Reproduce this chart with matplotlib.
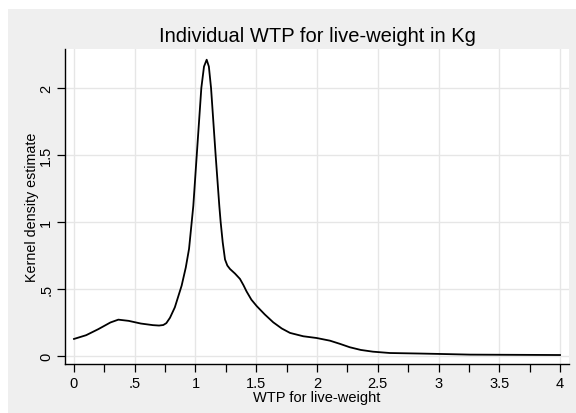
import matplotlib
matplotlib.use("Agg")
import matplotlib.pyplot as plt
from matplotlib.patches import Rectangle
import numpy as np

plt.rcParams['font.family'] = ['Liberation Sans', 'DejaVu Sans']

# Kernel density estimate
wtp = [0.0, 0.1, 0.2, 0.3, 0.365, 0.45, 0.55, 0.65, 0.70, 0.735, 0.76, 0.79,
       0.83, 0.886, 0.92, 0.947, 0.982, 1.01, 1.048, 1.07, 1.092, 1.11, 1.128,
       1.166, 1.196, 1.207, 1.224, 1.243, 1.262, 1.284, 1.325, 1.366, 1.395,
       1.42, 1.46, 1.504, 1.57, 1.64, 1.71, 1.778, 1.887, 1.997, 2.107, 2.19,
       2.27, 2.36, 2.46, 2.6, 2.85, 3.01, 3.26, 3.5, 3.75, 4.0]
density = [0.127, 0.155, 0.20, 0.25, 0.271, 0.262, 0.242, 0.230, 0.227,
           0.231, 0.245, 0.285, 0.363, 0.525, 0.66, 0.80, 1.12, 1.495, 2.0,
           2.16, 2.211, 2.16, 2.0, 1.495, 1.12, 1.0, 0.848, 0.72, 0.675,
           0.649, 0.615, 0.575, 0.528, 0.482, 0.42, 0.372, 0.31, 0.251, 0.205,
           0.172, 0.147, 0.134, 0.114, 0.09, 0.065, 0.045, 0.032, 0.022,
           0.018, 0.015, 0.010, 0.009, 0.008, 0.007]

x_major = [0, 0.5, 1, 1.5, 2, 2.5, 3, 3.5, 4]
x_labels = ["0", ".5", "1", "1.5", "2", "2.5", "3", "3.5", "4"]
x_minor = [0.25, 0.75, 1.25, 1.75, 2.25, 2.75, 3.25, 3.75]
y_major = [0, 0.5, 1, 1.5, 2]
y_labels = ["0", ".5", "1", "1.5", "2"]

W, H = 576, 414
fig = plt.figure(figsize=(W / 100, H / 100), dpi=100, facecolor="white")
bg = "#efefef"
fig.patches.append(Rectangle((8 / W, 0), (W - 8) / W, (H - 10) / H,
                             transform=fig.transFigure, facecolor=bg,
                             edgecolor="none", zorder=-10))

ax = fig.add_axes([65 / W, (H - 365) / H, (569 - 65) / W, (365 - 50) / H])
ax.set_facecolor("white")
ax.plot(wtp, density, color="black", lw=1.3, solid_joinstyle="round")

ax.set_xlim(-0.074, 4.074)
ax.set_ylim(-0.06, 2.291)

ax.set_xticks(x_major)
ax.set_xticklabels(x_labels, fontsize=10.5)
ax.set_xticks(x_minor, minor=True)
ax.set_yticks(y_major)
ax.set_yticklabels(y_labels, fontsize=10.5, rotation=90, va="center")

ax.tick_params(axis="both", which="both", direction="out", length=5.5,
               width=0.9, color="black", pad=3)
ax.tick_params(axis="x", which="minor", labelbottom=False)

ax.grid(True, which="major", color="#e6e6e6", lw=1.0)
ax.set_axisbelow(True)

for s in ["top", "right"]:
    ax.spines[s].set_visible(False)
for s in ["left", "bottom"]:
    ax.spines[s].set_color("black")
    ax.spines[s].set_linewidth(1.0)

ax.set_xlabel("WTP for live-weight", fontsize=10.5, labelpad=0)
ax.set_ylabel("Kernel density estimate", fontsize=10.3, labelpad=0)
fig.text((65 + 569) / 2 / W, 1 - 37 / H, "Individual WTP for live-weight in Kg",
         ha="center", va="center", fontsize=14.5)

fig.savefig("out.png", dpi=100, facecolor=fig.get_facecolor())
